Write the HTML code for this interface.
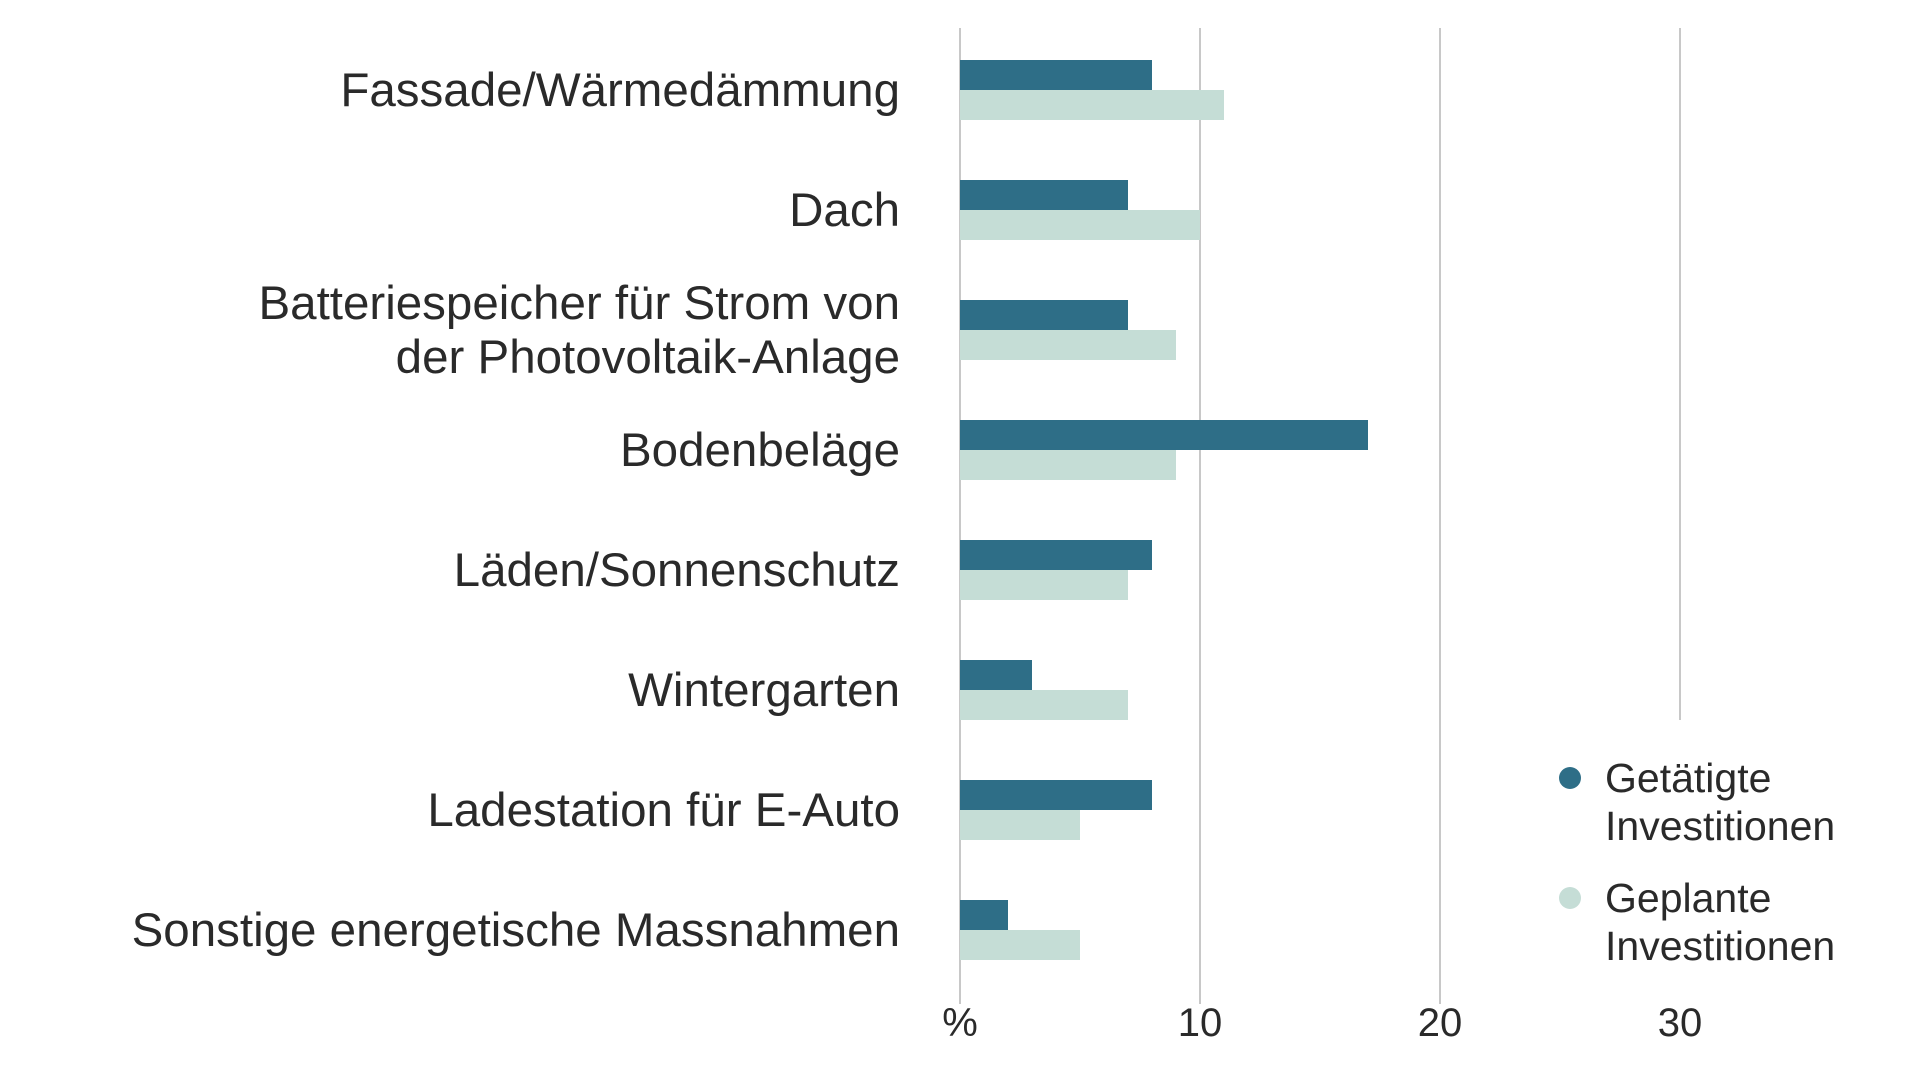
<!DOCTYPE html>
<html><head><meta charset="utf-8"><style>
html,body{margin:0;padding:0;background:#fff;}
svg{display:block;font-family:"Liberation Sans",sans-serif;}
</style></head><body>
<svg id="chart" width="1920" height="1080"></svg>
<script>
const categories=[["Fassade/Wärmedämmung"],["Dach"],["Batteriespeicher für Strom von","der Photovoltaik-Anlage"],["Bodenbeläge"],["Läden/Sonnenschutz"],["Wintergarten"],["Ladestation für E-Auto"],["Sonstige energetische Massnahmen"]];
const getaetigt=[8,7,7,17,8,3,8,2];
const geplant=[11,10,9,9,7,7,5,5];
const ticks=[0,10,20,30];
const tickLabels=["%","10","20","30"];
const seriesNames=["Getätigte Investitionen","Geplante Investitionen"];

const NS="http://www.w3.org/2000/svg";
const svg=document.getElementById('chart');
const x=v=>960+v*24;
const yc=i=>90+i*120;
function mk(t,a){const e=document.createElementNS(NS,t);for(const k in a)e.setAttribute(k,a[k]);svg.appendChild(e);return e;}
ticks.forEach((t,i)=>{
  const l=mk('line',{x1:x(t),x2:x(t),y1:28,y2:t===30?720:1004,stroke:'#c8c8c8','stroke-width':2});
  
  
  const tx=mk('text',{x:x(t),y:1036,'text-anchor':'middle','font-size':40,fill:'#2a2a2a'});
  tx.textContent=tickLabels[i];
  
  
});
categories.forEach((c,i)=>{
  const b1=mk('rect',{x:x(0),y:yc(i)-30,width:x(getaetigt[i])-x(0),height:30,fill:'#2e6e87'});
  
  
  const b2=mk('rect',{x:x(0),y:yc(i),width:x(geplant[i])-x(0),height:30,fill:'#c5ddd6'});
  
  
  const n=c.length;
  c.forEach((line,j)=>{
    const t=mk('text',{x:900,y:yc(i)+16+(j-(n-1)/2)*54,'text-anchor':'end','font-size':47.5,fill:'#2a2a2a'});
    t.textContent=line;
    
    
  });
});
const legCol=['#2e6e87','#c5ddd6'];
seriesNames.forEach((s,i)=>{
  const by=778+i*120;
  const d=mk('circle',{cx:1570,cy:by,r:11,fill:legCol[i]});
  
  
  const p=s.split(' ');
  p.forEach((w,j)=>{
    const t=mk('text',{x:1605,y:by+14+j*48,'font-size':41,fill:'#2a2a2a'});
    t.textContent=w;
    
    
  });
});
</script>
</body></html>
